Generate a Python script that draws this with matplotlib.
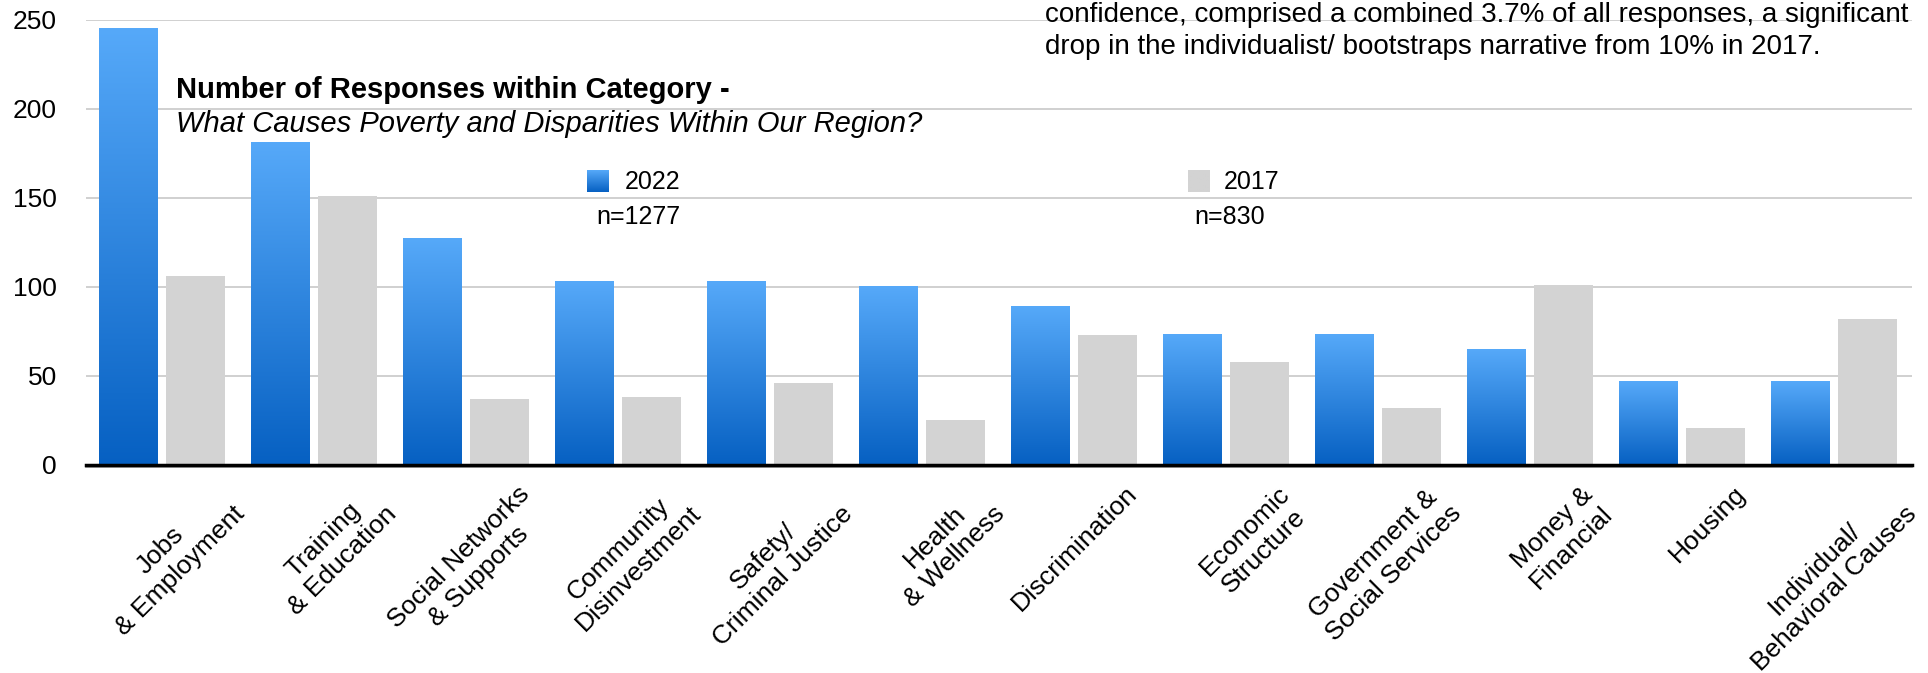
import matplotlib
matplotlib.use("Agg")
import matplotlib.pyplot as plt
import matplotlib.transforms as mtransforms
import numpy as np

plt.rcParams["font.family"] = ["Liberation Sans", "DejaVu Sans"]

categories = [
    "Jobs\n& Employment",
    "Training\n& Education",
    "Social Networks\n& Supports",
    "Community\nDisinvestment",
    "Safety/\nCriminal Justice",
    "Health\n& Wellness",
    "Discrimination",
    "Economic\nStructure",
    "Government &\nSocial Services",
    "Money &\nFinancial",
    "Housing",
    "Individual/\nBehavioral Causes",
]
values_2022 = [245, 181, 127, 103, 103, 100, 89, 73, 73, 65, 47, 47]
values_2017 = [106, 151, 37, 38, 46, 25, 73, 58, 32, 101, 21, 82]
y_ticks = [0, 50, 100, 150, 200, 250]

BLUE_TOP = np.array([0x56, 0xA9, 0xF9]) / 255
BLUE_BOT = np.array([0x06, 0x60, 0xC2]) / 255
GRAY = "#D3D3D3"

W, H = 1928, 673
fig = plt.figure(figsize=(W / 100, H / 100), dpi=100)
ax = fig.add_axes([86 / W, 1 - 465 / H, (1912 - 86) / W, (465 - 19.5) / H])

x = np.arange(len(categories))
bw = 0.388
off = 0.22

grad = np.linspace(0, 1, 256)[:, None]
cols = BLUE_TOP[None, :] * (1 - grad) + BLUE_BOT[None, :] * grad
grad_img = cols[:, None, :]

blue = ax.bar(x - off, values_2022, bw, color="none", zorder=3)
ax.bar(x + off, values_2017, bw, color=GRAY, zorder=3)
for b in blue:
    x0, y0 = b.get_x(), b.get_y()
    ax.imshow(grad_img, extent=[x0, x0 + b.get_width(), y0, y0 + b.get_height()],
              aspect="auto", zorder=3, interpolation="bilinear")

ax.set_xlim(-0.5, len(categories) - 1 + 0.513)
ax.set_ylim(0, 250)
ax.set_yticks(y_ticks)
ax.yaxis.grid(True, color="#C8C8C8", linewidth=1.2)
ax.set_axisbelow(True)
for s in ["top", "right", "left"]:
    ax.spines[s].set_visible(False)
ax.spines["bottom"].set_color("black")
ax.spines["bottom"].set_linewidth(2.5)
ax.spines["bottom"].set_zorder(5)
# thin grey shadow under the axis line
ax.plot([0, 1], [0, 0], color="#9A9A9A", linewidth=1.2, zorder=4,
        transform=ax.transAxes + mtransforms.ScaledTranslation(0, -0.02, fig.dpi_scale_trans),
        clip_on=False)
ax.tick_params(axis="y", length=0, labelsize=19, pad=21)
ax.tick_params(axis="x", length=0, pad=12)
ax.set_xticks(x)
ax.set_xticklabels(categories, rotation=45, ha="right", rotation_mode="anchor",
                   fontsize=19, multialignment="center")
for lbl in ax.get_xticklabels():
    lbl.set_transform(lbl.get_transform() + mtransforms.ScaledTranslation(0.51, 0, fig.dpi_scale_trans))

# titles
fig.text(176 / W, 1 - 90 / H, "Number of Responses within Category -", fontsize=21,
         fontweight="bold", va="center", ha="left")
fig.text(176 / W, 1 - 124 / H, "What Causes Poverty and Disparities Within Our Region?",
         fontsize=21, style="italic", va="center", ha="left")

# legend
def swatch(x0, color_img):
    sax = fig.add_axes([x0 / W, 1 - 192 / H, 22 / W, 22 / H])
    sax.imshow(color_img, aspect="auto", extent=[0, 1, 0, 1], interpolation="bilinear")
    sax.axis("off")

swatch(587, grad_img)
swatch(1188, np.ones((2, 1, 3)) * np.array([0xD3, 0xD3, 0xD3]) / 255)
fig.text(625 / W, 1 - 182 / H, "2022", fontsize=18, va="center")
fig.text(596 / W, 1 - 217 / H, "n=1277", fontsize=18, va="center")
fig.text(1224 / W, 1 - 182 / H, "2017", fontsize=18, va="center")
fig.text(1194 / W, 1 - 217 / H, "n=830", fontsize=18, va="center")

# note (cut off at the top and right in the source)
fig.text(1045 / W, 1 - 15 / H,
         "confidence, comprised a combined 3.7% of all responses, a significant",
         fontsize=20, va="center")
fig.text(1045 / W, 1 - 47 / H,
         "drop in the individualist/ bootstraps narrative from 10% in 2017.",
         fontsize=20, va="center")

fig.savefig("out.png", dpi=100)
